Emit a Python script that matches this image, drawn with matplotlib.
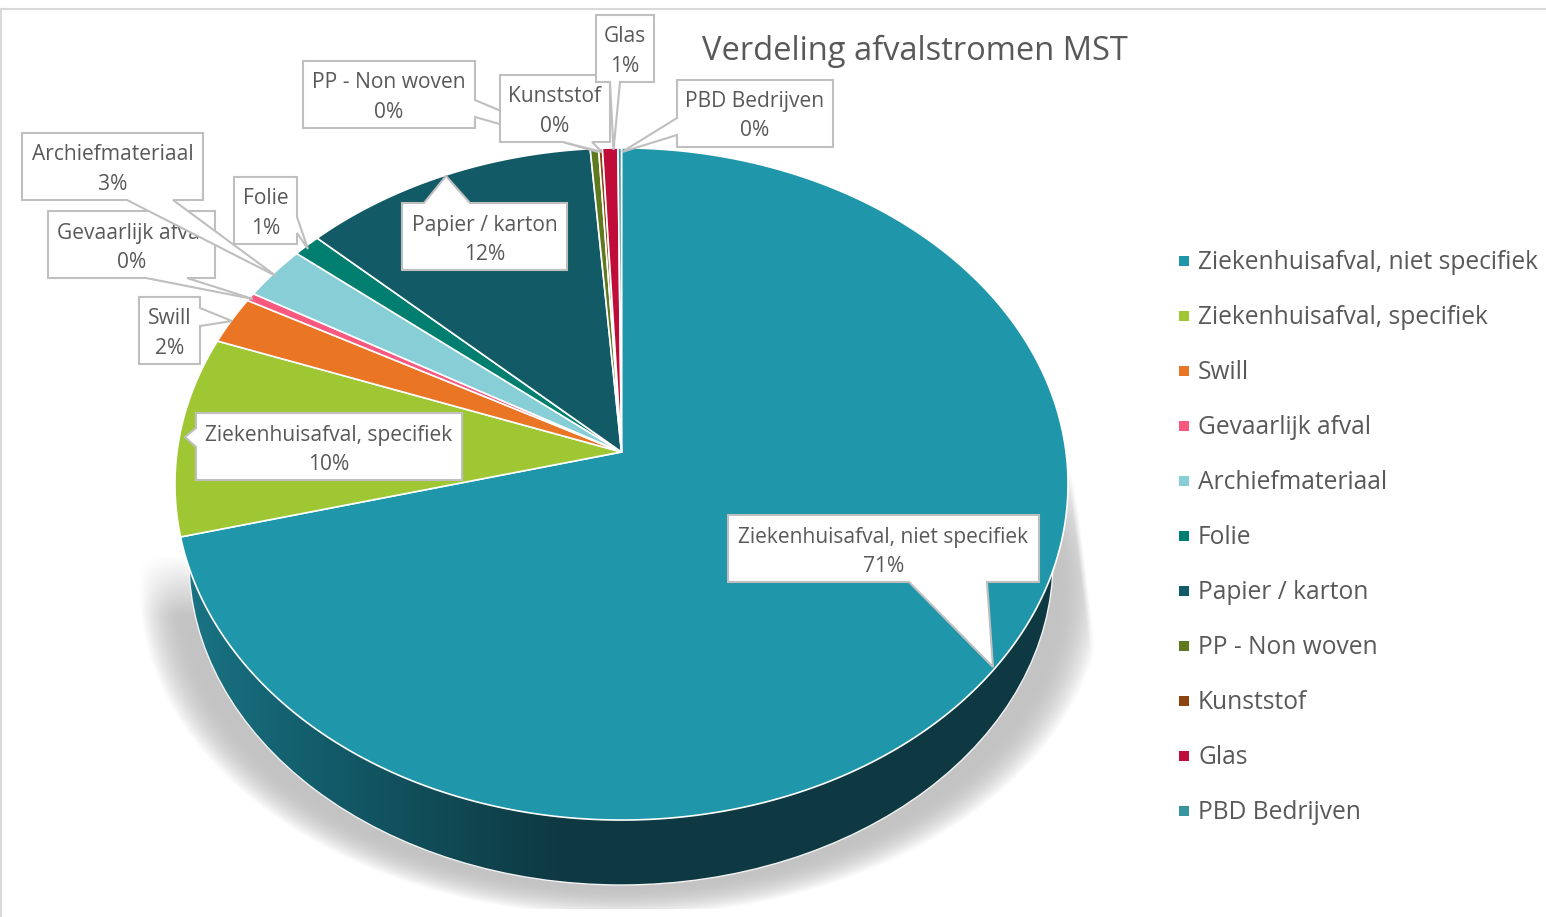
import numpy as np
import matplotlib
matplotlib.use("Agg")
import matplotlib.pyplot as plt
from matplotlib.patches import Ellipse, Polygon

categories = ["Ziekenhuisafval, niet specifiek", "Ziekenhuisafval, specifiek", "Swill",
              "Gevaarlijk afval", "Archiefmateriaal", "Folie", "Papier / karton",
              "PP - Non woven", "Kunststof", "Glas", "PBD Bedrijven"]
values = [71.0, 9.6, 2.3, 0.4, 2.6, 1.1, 11.78, 0.33, 0.15, 0.61, 0.14]
colors = ["#2096AA", "#9FC734", "#E97525", "#F9587F", "#88CED6", "#007E70", "#125A66",
          "#5F7A1E", "#8C4310", "#C00C38", "#38949E"]
title = "Verdeling afvalstromen MST"

plt.rcParams["font.family"] = ["Open Sans", "DejaVu Sans"]
TXT = "#595959"
EDGE = "#BFBFBF"

fig = plt.figure(figsize=(15.46, 9.17), dpi=100)
ax = fig.add_axes([0, 0, 1, 1])
H, W = 917, 1546

# soft shadow under the disc
yy, xx = np.mgrid[0:H, 0:W]
r = np.sqrt(((xx - 621) / 482.0) ** 2 + ((yy - 590) / 326.0) ** 2)
a = np.clip((1.0 - r) / 0.095, 0, 1)
a = a * (2 - a)
left_top = np.clip((yy - 555) / 60.0, 0, 1)
right_line = 1067 + (yy - 420) * 26 / 210.0
right_cut = np.clip((right_line - xx) / 6.0, 0, 1) * np.clip((yy - 415) / 60.0, 0, 1)
a = np.where(xx < 621, a * left_top, a * right_cut)
a[yy > 908] = 0
shadow = np.zeros((H, W, 4))
shadow[..., :3] = 195 / 255.0
shadow[..., 3] = a
ax.imshow(shadow, extent=(0, W, H, 0), aspect="auto", zorder=1, interpolation="bilinear")

# side wall of the disc, shaded left to right
gx = np.arange(W)
stops_x = [185, 290, 400, 560, 1100]
side_rgb = np.stack([np.interp(gx, stops_x, c) for c in
                     ([25, 20, 17, 14, 15], [116, 97, 80, 57, 58], [132, 112, 92, 66, 66])], axis=-1) / 255.0
wall = ax.imshow(side_rgb[None, :, :], extent=(0, W, H, 0), aspect="auto", zorder=2)
rim = Ellipse((621, 561), 2 * 432, 2 * 324, facecolor="none", edgecolor="none", transform=ax.transData)
ax.add_patch(rim)
wall.set_clip_path(rim)
ax.add_patch(Ellipse((621, 561), 2 * 432, 2 * 324, facecolor="none", edgecolor="#F2F2F2", lw=1.0, zorder=3))

# top surface: a circle seen in perspective, centre meets at (621, 452)
CX, CY, D, A, C = 621.5, 452.0, 444.5, -333.0, 0.0952


def project(theta):
    x, y = np.sin(theta), np.cos(theta)
    den = 1 + C * y
    return CX + D * x / den, CY + A * y / den


fractions = np.array(values) / np.sum(values)
edges = np.concatenate([[0], np.cumsum(fractions)]) * 2 * np.pi
for i, col in enumerate(colors):
    t = np.linspace(edges[i], edges[i + 1], max(4, int(fractions[i] * 720)))
    px, py = project(t)
    ax.add_patch(Polygon(np.column_stack([np.r_[CX, px], np.r_[CY, py]]), closed=True,
                         facecolor=col, edgecolor="white", lw=1.2, joinstyle="round", zorder=4))


def callout(idx, x0, x1, y0, pointer, side):
    """White label box with a wedge pointer. side: t/b/l/r; pointer = (base a, tip, base b)."""
    y1 = y0 + 67
    a_, tip, b_ = pointer
    if side == "b":
        pts = [(x0, y0), (x1, y0), (x1, y1), (b_, y1), tip, (a_, y1), (x0, y1)]
    elif side == "t":
        pts = [(x0, y0), (a_, y0), tip, (b_, y0), (x1, y0), (x1, y1), (x0, y1)]
    elif side == "r":
        pts = [(x0, y0), (x1, y0), (x1, a_), tip, (x1, b_), (x1, y1), (x0, y1)]
    else:
        pts = [(x0, y0), (x1, y0), (x1, y1), (x0, y1), (x0, b_), tip, (x0, a_)]
    z = callout.z
    callout.z += 1
    ax.add_patch(Polygon(pts, closed=True, facecolor="white", edgecolor=EDGE, lw=1.5,
                         joinstyle="miter", zorder=z))
    cx = (x0 + x1) / 2
    ax.text(cx, y0 + 22, categories[idx], ha="center", va="center", fontsize=LBL, color=TXT, zorder=z)
    ax.text(cx, y0 + 51, f"{values[idx]:.0f}%", ha="center", va="center", fontsize=LBL, color=TXT, zorder=z)


LBL = 15.1
callout.z = 5
callout(0, 728, 1039, 515, (909, (993, 667), 987), "b")
callout(1, 196, 462, 413, (428, (185, 437), 447), "l")
callout(2, 139, 200, 297, (308, (232, 321), 326), "r")
callout(3, 48, 215, 211, (146, (253, 299), 187), "b")
callout(4, 22, 203, 133, (127, (276, 276), 173), "b")
callout(5, 234, 297, 177, (217, (308, 249), 233), "r")
callout(6, 402, 567, 203, (424, (446, 176), 470), "t")
callout(7, 303, 475, 61, (100, (598, 152), 117), "r")
callout(8, 500, 610, 75, (563, (602, 152), 592), "b")
callout(9, 596, 654, 15, (610, (613.5, 150), 620), "b")
callout(10, 677, 833, 80, (118, (622, 152), 135), "l")

# title
ax.text(702, 51.5, title, ha="left", va="center", fontsize=23.5, color=TXT, zorder=30)

# legend
for i, (name, col) in enumerate(zip(categories, colors)):
    y = 262.5 + 55 * i
    ax.scatter([1184], [y - 1.5], marker="s", s=58, color=col, linewidths=0, zorder=30)
    ax.text(1198, y, name, ha="left", va="center", fontsize=17.65, color=TXT, zorder=30)

# chart frame
ax.plot([0, W], [8.5, 8.5], color="#D9D9D9", lw=1.5, zorder=0)
ax.plot([0.5, 0.5], [8.5, H], color="#D9D9D9", lw=1.5, zorder=0)

ax.set_xlim(0, W)
ax.set_ylim(H, 0)
ax.axis("off")
fig.savefig("out.png", dpi=100, facecolor="white")
